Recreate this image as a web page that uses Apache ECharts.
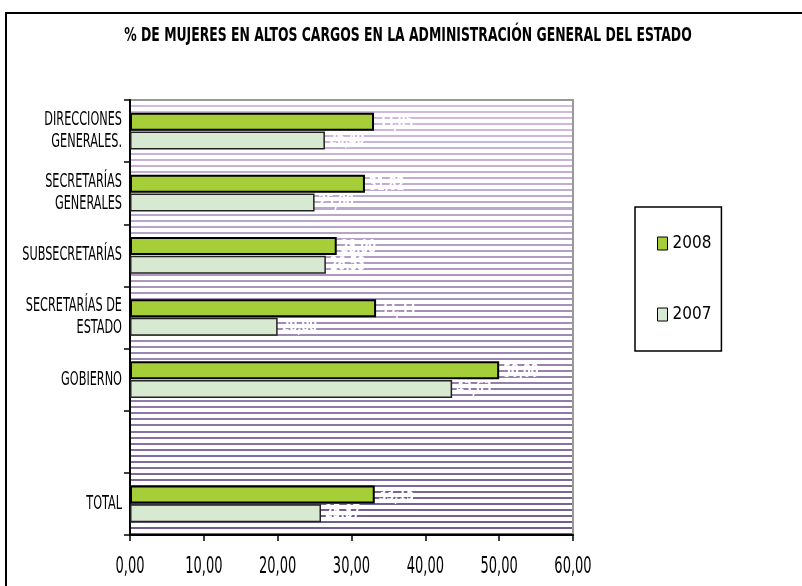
<!DOCTYPE html>
<html><head><meta charset="utf-8">
<script src="https://cdn.jsdelivr.net/npm/echarts@6/dist/echarts.min.js"></script>
<style>html,body{margin:0;padding:0;background:#fff}#c{width:802px;height:586px}</style>
</head><body><div id="c"></div>
<script>
const categories = ['DIRECCIONES\nGENERALES.', 'SECRETARÍAS\nGENERALES', 'SUBSECRETARÍAS', 'SECRETARÍAS DE\nESTADO', 'GOBIERNO', '', 'TOTAL'];
const values2008 = [33.05, 31.82, 28.00, 33.33, 50.00, null, 33.15];
const values2007 = [26.40, 25.00, 26.53, 20.00, 43.63, null, 25.87];
const seriesNames = ['2008', '2007'];
const xTicks = [0, 10, 20, 30, 40, 50, 60];
const titleText = '% DE MUJERES EN ALTOS CARGOS EN LA ADMINISTRACIÓN GENERAL DEL ESTADO';

const FONT = "'DejaVu Sans Condensed', 'DejaVu Sans', sans-serif";

function hex(c){return [parseInt(c.slice(1,3),16),parseInt(c.slice(3,5),16),parseInt(c.slice(5,7),16)];}
function mix(a,b,t){const A=hex(a),B=hex(b);return 'rgb('+A.map((v,i)=>Math.round(v+(B[i]-v)*t)).join(',')+')';}
// striped plot background (style only)
function stripes(h){
  const stops=[]; const period=6, line=2;
  for(let y=0;y<h;y+=period){
    const t=y/h; const col=mix('#d2bce0','#6e5a8e',Math.pow(t,1.1));
    const o1=y/h, o2=Math.min((y+line)/h,1);
    stops.push({offset:o1,color:'#ffffff'},{offset:o1,color:col},{offset:o2,color:col},{offset:o2,color:'#ffffff'});
  }
  stops.push({offset:1,color:'#ffffff'});
  return {type:'linear',x:0,y:0,x2:0,y2:1,colorStops:stops};
}
const num = v => Number(v).toFixed(2).replace('.', ',');

const chart = echarts.init(document.getElementById('c'), null, {renderer:'canvas'});
chart.setOption({
  animation:false,
  backgroundColor:'#ffffff',
  legend:{orient:'vertical',left:635,top:207,data:seriesNames,
    padding:[28,10,28,22],itemGap:54,itemWidth:10,itemHeight:13,itemTextGap:3,icon:'rect',
    borderColor:'#000',borderWidth:1.5,
    textStyle:{fontFamily:FONT,fontSize:17,color:'#000'},
    itemStyle:{borderColor:'#000',borderWidth:1}},
  grid:{left:130,top:100,right:229,bottom:51,show:true,backgroundColor:stripes(435),borderColor:'#999',borderWidth:2},
  xAxis:{type:'value',min:0,max:60,interval:10,
    axisLine:{show:true,lineStyle:{color:'#000',width:2}},
    axisTick:{show:true,length:6,lineStyle:{color:'#000',width:1.5}},
    splitLine:{show:false},
    axisLabel:{show:false}},
  yAxis:{type:'category',data:categories,inverse:true,
    axisLine:{show:true,lineStyle:{color:'#000',width:2}},
    axisTick:{show:true,length:6,lineStyle:{color:'#000',width:1.5}},
    axisLabel:{show:false}},
  series:[
    {name:seriesNames[0],type:'bar',data:values2008,barWidth:18,barGap:'4%',
      itemStyle:{color:'#a6ce39',borderColor:'#000',borderWidth:2}},
    {name:seriesNames[1],type:'bar',data:values2007,barWidth:18,
      itemStyle:{color:'#d8e9d2',borderColor:'#222',borderWidth:1.5}}
  ]
});

// condensed texts placed through the chart's own scales
const g = [];
g.push({type:'rect',shape:{x:6,y:13,width:900,height:700},style:{fill:'none',stroke:'#000',lineWidth:2},z:-1});
g.push({type:'text',x:408,y:36,scaleX:0.69,style:{text:titleText,fontFamily:FONT,fontWeight:'bold',fontSize:20,fill:'#000',align:'center',verticalAlign:'middle'}});
xTicks.forEach(v=>{
  const p = chart.convertToPixel({gridIndex:0},[v,0]);
  g.push({type:'text',x:p[0],y:567,scaleX:0.63,style:{text:num(v),fontFamily:FONT,fontSize:23,fill:'#000',align:'center',verticalAlign:'middle'}});
});
categories.forEach((c,i)=>{
  const p = chart.convertToPixel({gridIndex:0},[0,i]);
  if(c) g.push({type:'text',x:p[0]-8,y:p[1],scaleX:0.66,style:{text:c,fontFamily:FONT,fontSize:19,lineHeight:22,fill:'#000',align:'right',verticalAlign:'middle'}});
  if(values2008[i]!=null){
    const a = chart.convertToPixel({gridIndex:0},[values2008[i],i]);
    g.push({type:'text',x:a[0]+4,y:a[1]-8,scaleX:0.62,style:{text:num(values2008[i]),fontFamily:FONT,fontWeight:'bold',fontSize:20,fill:'#fff',align:'left',verticalAlign:'middle'}});
  }
  if(values2007[i]!=null){
    const b = chart.convertToPixel({gridIndex:0},[values2007[i],i]);
    g.push({type:'text',x:b[0]+4,y:b[1]+9,scaleX:0.62,style:{text:num(values2007[i]),fontFamily:FONT,fontWeight:'bold',fontSize:20,fill:'#fff',align:'left',verticalAlign:'middle'}});
  }
});
chart.setOption({graphic:g});
</script></body></html>
